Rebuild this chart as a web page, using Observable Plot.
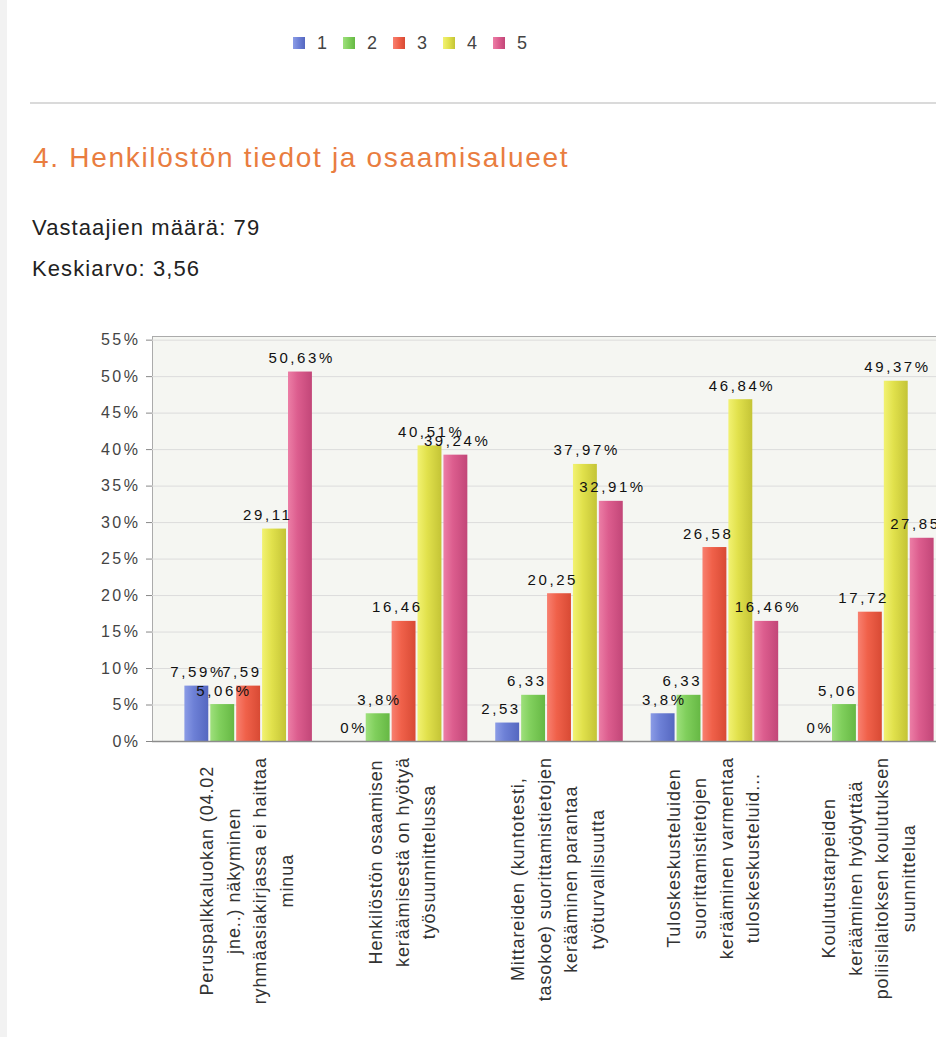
<!DOCTYPE html>
<html>
<head>
<meta charset="utf-8">
<script src="https://cdn.jsdelivr.net/npm/d3@7"></script>
<script src="https://cdn.jsdelivr.net/npm/@observablehq/plot@0.6"></script>
<style>
html, body { margin: 0; padding: 0; width: 936px; height: 1037px; overflow: hidden; background: #fff; }
body { position: relative; font-family: "Liberation Sans", Arial, sans-serif; }
#strip { position: absolute; left: 0; top: 0; width: 7px; height: 1037px; background: #f2f2f2; }
#legend { position: absolute; left: 293px; top: 34px; height: 20px; white-space: nowrap; }
#legend .item { display: inline-block; width: 50px; height: 20px; position: relative; font-size: 18px; line-height: 18px; color: #444; }
#legend .sw { position: absolute; left: 0; top: 3px; width: 12px; height: 12px; }
#legend .lb { position: absolute; left: 24px; top: 0; }
#rule { position: absolute; left: 30px; width: 906px; top: 102px; height: 2px; background: #dadada; }
#title { position: absolute; left: 33px; top: 144px; font-size: 28px; line-height: 28px; letter-spacing: 1.7px; color: #e97d3f; white-space: nowrap; }
.info { position: absolute; left: 32px; font-size: 22px; line-height: 22px; letter-spacing: 1.1px; color: #222; white-space: nowrap; }
#chart { position: absolute; left: 0; top: 300px; width: 980px; height: 737px; }
#chart svg { max-width: none !important; }
</style>
</head>
<body>
<div id="strip"></div>
<div id="legend"></div>
<div id="rule"></div>
<div id="title"></div>
<div class="info" id="info1" style="top:217px"></div>
<div class="info" id="info2" style="top:258px"></div>
<div id="chart"></div>
<script>
// ---- data ----
const titleText = "4. Henkilöstön tiedot ja osaamisalueet";
const infoLines = ["Vastaajien määrä: 79", "Keskiarvo: 3,56"];

const categories = [
  "Peruspalkkaluokan (04.02\njne..) näkyminen\nryhmäasiakirjassa ei haittaa\nminua",
  "Henkilöstön osaamisen\nkeräämisestä on hyötyä\ntyösuunnittelussa",
  "Mittareiden (kuntotesti,\ntasokoe) suorittamistietojen\nkerääminen parantaa\ntyöturvallisuutta",
  "Tuloskeskusteluiden\nsuorittamistietojen\nkerääminen varmentaa\ntuloskeskusteluid...",
  "Koulutustarpeiden\nkerääminen hyödyttää\npoliisilaitoksen koulutuksen\nsuunnittelua"
];
const series = ["1", "2", "3", "4", "5"];
const colors = ["#6d80d6", "#80cf5c", "#f0614a", "#e1e14c", "#dc5d8e"];
const colorsLight = ["#8b9ce6", "#9ee07c", "#f88070", "#f2f272", "#ec7ea6"];
const colorsDark = ["#5567c0", "#66b844", "#d84a34", "#c4c436", "#c24678"];

// percentage per category, one array per series
const s1 = [7.59, 0, 2.53, 3.8, 0];
const s2 = [5.06, 3.8, 6.33, 6.33, 5.06];
const s3 = [7.59, 16.46, 20.25, 26.58, 17.72];
const s4 = [29.11, 40.51, 37.97, 46.84, 49.37];
const s5 = [50.63, 39.24, 32.91, 16.46, 27.85];
const seriesValues = [s1, s2, s3, s4, s5];

// value labels as displayed (some are cut off in the original)
const l1 = ["7,59%", "0%", "2,53", "3,8%", "0%"];
const l2 = ["5,06%", "3,8%", "6,33", "6,33", "5,06"];
const l3 = ["7,59", "16,46", "20,25", "26,58", "17,72"];
const l4 = ["29,11", "40,51%", "37,97%", "46,84%", "49,37%"];
const l5 = ["50,63%", "39,24%", "32,91%", "16,46%", "27,85"];
const seriesLabels = [l1, l2, l3, l4, l5];

const yTicks = [0, 5, 10, 15, 20, 25, 30, 35, 40, 45, 50, 55];

// ---- header ----
document.getElementById("title").textContent = titleText;
document.getElementById("info1").textContent = infoLines[0];
document.getElementById("info2").textContent = infoLines[1];
const legend = document.getElementById("legend");
series.forEach((s, i) => {
  const item = document.createElement("span");
  item.className = "item";
  const sw = document.createElement("span");
  sw.className = "sw";
  sw.style.background = `linear-gradient(90deg, ${colorsLight[i]}, ${colors[i]} 50%, ${colorsDark[i]})`;
  const lb = document.createElement("span");
  lb.className = "lb";
  lb.textContent = s;
  item.appendChild(sw); item.appendChild(lb);
  legend.appendChild(item);
});

// ---- helpers ----
const ctx = document.createElement("canvas").getContext("2d");
function textW(s, size, ls) {
  ctx.font = `${size}px "Liberation Sans"`;
  return ctx.measureText(s).width + ls * (s.length - 1);
}
const spacing = v => (index, scales, values, dims, context, next) => {
  const g = next(index, scales, values, dims, context);
  if (g) g.setAttribute("letter-spacing", v);
  return g;
};

// x band domain: bars of each category, with an empty slot between categories
const keys = [];
categories.forEach((c, i) => {
  series.forEach(s => keys.push(`${i}|${s}`));
  if (i < categories.length - 1) keys.push(`gap${i}`);
});

const VFS = 15, VLS = 2.6;   // value label font size / letter spacing
const XFS = 18, XLS = 0.9;   // category label font size / letter spacing

const marks = [
  Plot.frame({fill: "#f5f6f2", stroke: "#ababab"}),
  Plot.gridY(yTicks, {stroke: "#dcdcdc", strokeOpacity: 1}),
];

// bars
seriesValues.forEach((vals, j) => {
  const rows = categories.map((c, i) => ({key: `${i}|${series[j]}`, v: vals[i]}));
  marks.push(Plot.barY(rows, {x: "key", y: "v", fill: `url(#grad${j})`}));
});

marks.push(Plot.ruleY([0], {stroke: "#8c8c8c", strokeWidth: 1.5}));
marks.push(Plot.axisY({ticks: yTicks, tickFormat: d => d + "%", tickSize: 6, tickPadding: 6, fontSize: 16, stroke: "#888", label: null}));

// value labels: positioned as if the full label were centred over its bar
const labelRows = [];
seriesValues.forEach((vals, j) => {
  vals.forEach((v, i) => {
    const full = String(v).replace(".", ",") + "%";
    labelRows.push({key: `${i}|${series[j]}`, v, shown: seriesLabels[j][i], w: Math.round(textW(full, VFS, VLS))});
  });
});
const widths = [...new Set(labelRows.map(d => d.w))];
widths.forEach(w => {
  marks.push(Plot.text(labelRows.filter(d => d.w === w), {
    x: "key", y: "v", text: "shown", textAnchor: "start", lineAnchor: "bottom",
    dx: -w / 2, dy: -9, fontSize: VFS, fill: "#111", render: spacing(VLS + "px")
  }));
});

// category labels: rotated, lines centred, block top just below the axis
categories.forEach((c, i) => {
  const maxLen = d3.max(c.split("\n"), line => textW(line, XFS, XLS));
  marks.push(Plot.text([`${i}|${series[2]}`], {
    x: d => d, text: () => c, frameAnchor: "bottom", rotate: -90,
    textAnchor: "middle", lineAnchor: "middle", lineHeight: 26.5 / XFS,
    fontSize: XFS, fill: "#333", dx: -4, dy: 16 + maxLen / 2, render: spacing(XLS + "px")
  }));
});

const svg = Plot.plot({
  width: 980,
  height: 737,
  marginTop: 36,
  marginBottom: 296,
  marginLeft: 152,
  marginRight: 14,
  style: {fontFamily: '"Liberation Sans", Arial, sans-serif', color: "#444", background: "transparent", overflow: "visible"},
  x: {type: "band", domain: keys, paddingInner: 0.077, paddingOuter: 1.25, round: false, axis: null},
  y: {domain: [0, 55.5], axis: null},
  marks
});
svg.style.letterSpacing = "2.5px";
svg.style.maxWidth = "none";
svg.style.width = "980px";
svg.style.height = "737px";

// bar gradients
const ns = "http://www.w3.org/2000/svg";
const defs = document.createElementNS(ns, "defs");
colors.forEach((col, j) => {
  const lg = document.createElementNS(ns, "linearGradient");
  lg.setAttribute("id", `grad${j}`);
  lg.setAttribute("x1", "0"); lg.setAttribute("x2", "1");
  lg.setAttribute("y1", "0"); lg.setAttribute("y2", "0");
  [[0, colorsLight[j]], [0.4, col], [1, colorsDark[j]]].forEach(([o, c]) => {
    const st = document.createElementNS(ns, "stop");
    st.setAttribute("offset", o);
    st.setAttribute("stop-color", c);
    lg.appendChild(st);
  });
  defs.appendChild(lg);
});
svg.insertBefore(defs, svg.firstChild);

document.getElementById("chart").appendChild(svg);
</script>
</body>
</html>
